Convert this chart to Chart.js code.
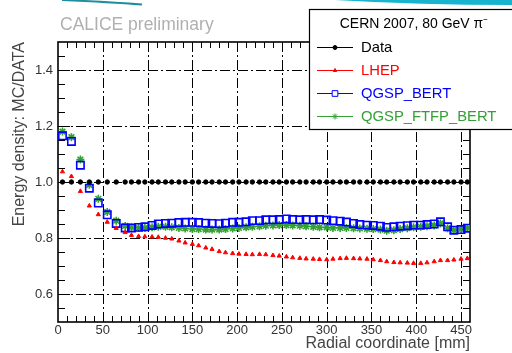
<!DOCTYPE html>
<html>
<head>
<meta charset="utf-8">
<script src="https://cdn.jsdelivr.net/npm/chart.js@4.4.1/dist/chart.umd.min.js"></script>
<style>
html, body { margin: 0; padding: 0; background: #fff; }
canvas { display: block; }
</style>
</head>
<body>
<canvas id="profileChart" width="512" height="353"></canvas>
<script>
// radial bin centres [mm]
const radius = [
    5, 15, 25, 35, 45, 55, 65, 75,
    82, 90, 97, 105, 112, 120, 127, 135, 142, 150,
    157, 165, 172, 180, 187, 195, 202, 210, 217, 225,
    232, 240, 247, 255, 262, 270, 277, 285, 292, 300,
    307, 315, 322, 330, 337, 345, 352, 360, 367, 375,
    382, 390, 397, 405, 412, 420, 427, 435, 442, 450,
    457
];

const dataRatio = [
    1.0, 1.0, 1.0, 1.0, 1.0, 1.0, 1.0, 1.0,
    1.0, 1.0, 1.0, 1.0, 1.0, 1.0, 1.0, 1.0, 1.0, 1.0,
    1.0, 1.0, 1.0, 1.0, 1.0, 1.0, 1.0, 1.0, 1.0, 1.0,
    1.0, 1.0, 1.0, 1.0, 1.0, 1.0, 1.0, 1.0, 1.0, 1.0,
    1.0, 1.0, 1.0, 1.0, 1.0, 1.0, 1.0, 1.0, 1.0, 1.0,
    1.0, 1.0, 1.0, 1.0, 1.0, 1.0, 1.0, 1.0, 1.0, 1.0,
    1.0
];

const lhep = [
    1.037, 1.02, 0.967, 0.915, 0.884, 0.857, 0.835, 0.82,
    0.81, 0.806, 0.805, 0.804, 0.803, 0.8, 0.797, 0.79, 0.783, 0.778,
    0.773, 0.765, 0.76, 0.752, 0.748, 0.745, 0.743, 0.742, 0.741, 0.742,
    0.741, 0.738, 0.736, 0.733, 0.73, 0.728, 0.726, 0.725, 0.724, 0.723,
    0.725, 0.727, 0.728, 0.727, 0.726, 0.725, 0.723, 0.72, 0.716, 0.713,
    0.712, 0.711, 0.71, 0.71, 0.712, 0.716, 0.72, 0.72, 0.722, 0.725,
    0.727
];

const qgspBert = [
    1.165, 1.145, 1.06, 0.978, 0.925, 0.883, 0.852, 0.836,
    0.836, 0.838, 0.84, 0.845, 0.85, 0.852, 0.853, 0.855, 0.856, 0.856,
    0.855, 0.853, 0.852, 0.851, 0.853, 0.856, 0.856, 0.858, 0.862, 0.862,
    0.865, 0.865, 0.866, 0.868, 0.866, 0.865, 0.866, 0.865, 0.866, 0.864,
    0.862, 0.86, 0.857, 0.852, 0.848, 0.846, 0.845, 0.842, 0.838, 0.84,
    0.842, 0.844, 0.846, 0.846, 0.848, 0.85, 0.858, 0.84, 0.828, 0.83,
    0.835
];

const qgspFtfpBert = [
    1.18, 1.16, 1.08, 0.99, 0.94, 0.893, 0.862, 0.843,
    0.838, 0.836, 0.836, 0.838, 0.84, 0.84, 0.838, 0.836, 0.834, 0.832,
    0.832, 0.83, 0.83, 0.83, 0.832, 0.834, 0.836, 0.838, 0.84, 0.842,
    0.844, 0.845, 0.846, 0.846, 0.845, 0.844, 0.842, 0.84, 0.838, 0.838,
    0.836, 0.836, 0.836, 0.835, 0.834, 0.833, 0.832, 0.83, 0.826, 0.828,
    0.832, 0.835, 0.838, 0.84, 0.842, 0.845, 0.852, 0.835, 0.828, 0.832,
    0.835
];

const seriesNames = ['Data', 'LHEP', 'QGSP_BERT', 'QGSP_FTFP_BERT'];
const xTicks = [0, 50, 100, 150, 200, 250, 300, 350, 400, 450];
const yTicks = [0.6, 0.8, 1.0, 1.2, 1.4];
const legendTitle = 'CERN 2007, 80 GeV \u03c0\u207b';
const stampText = 'CALICE preliminary';

const colors = {
    data: '#000000',
    lhep: '#ff0000',
    bert: '#0000ff',
    ftfp: '#33a033'
};

const FONT = '"Liberation Sans", Arial, Helvetica, sans-serif';
Chart.defaults.font.family = FONT;

function toPoints(ys) {
    return radius.map((r, i) => ({ x: r, y: ys[i] }));
}

const dashDot = [10, 3, 2, 3];

// ROOT-style frame, dash-dot grid, inward minor ticks, legend box and slide decoration
const rootStyle = {
    id: 'rootStyle',
    beforeDatasetsDraw(chart) {
        const { ctx, chartArea: a, scales } = chart;
        ctx.save();
        ctx.strokeStyle = '#000';

        // grid
        ctx.lineWidth = 1;
        ctx.setLineDash(dashDot);
        ctx.beginPath();
        xTicks.forEach(v => {
            if (v === 0) return;
            const px = Math.round(scales.x.getPixelForValue(v)) + 0.5;
            ctx.moveTo(px, a.bottom); ctx.lineTo(px, a.top);
        });
        yTicks.forEach(v => {
            const py = Math.round(scales.y.getPixelForValue(v)) + 0.5;
            ctx.moveTo(a.left, py); ctx.lineTo(a.right, py);
        });
        ctx.stroke();
        ctx.setLineDash([]);

        // ticks
        ctx.beginPath();
        for (let v = 10; v <= 450; v += 10) {
            const px = Math.round(scales.x.getPixelForValue(v)) + 0.5;
            const len = v % 50 === 0 ? 9 : 6;
            ctx.moveTo(px, a.bottom); ctx.lineTo(px, a.bottom - len);
            ctx.moveTo(px, a.top); ctx.lineTo(px, a.top + len);
        }
        for (let k = 11; k < 30; k++) {
            const v = k * 0.05;
            const py = Math.round(scales.y.getPixelForValue(v)) + 0.5;
            const len = k % 4 === 0 ? 12 : 7;
            ctx.moveTo(a.left, py); ctx.lineTo(a.left + len, py);
            ctx.moveTo(a.right, py); ctx.lineTo(a.right - len, py);
        }
        ctx.stroke();
        ctx.lineWidth = 1.6;
        ctx.strokeRect(a.left, a.top, a.right - a.left, a.bottom - a.top);
        ctx.restore();
    },
    afterDraw(chart) {
        const { ctx } = chart;
        ctx.save();

        // slide decoration at the top
        ctx.strokeStyle = '#1f8f9f';
        ctx.lineWidth = 2;
        ctx.beginPath();
        ctx.moveTo(62, 0);
        ctx.quadraticCurveTo(110, 2, 142, 4.5);
        ctx.stroke();
        ctx.fillStyle = '#18b4cf';
        ctx.beginPath();
        ctx.moveTo(335, 0);
        ctx.quadraticCurveTo(420, 5, 512, 5);
        ctx.lineTo(512, 0);
        ctx.closePath();
        ctx.fill();

        // stamp
        ctx.fillStyle = '#b0b0b0';
        ctx.font = '17.5px ' + FONT;
        ctx.textBaseline = 'middle';
        ctx.textAlign = 'left';
        ctx.fillText(stampText, 60, 25);

        // legend box
        const bx = 309, by = 9, bw = 210, bh = 120;
        ctx.fillStyle = '#fff';
        ctx.fillRect(bx, by, bw, bh);
        ctx.strokeStyle = '#000';
        ctx.lineWidth = 1.2;
        ctx.strokeRect(bx + 0.5, by + 0.5, bw, bh);

        ctx.fillStyle = '#000';
        ctx.font = '14px ' + FONT;
        ctx.textAlign = 'center';
        ctx.fillText(legendTitle, 414, 24);

        const rows = [47, 70, 93, 116];
        chart.data.datasets.forEach((ds, i) => {
            const y = rows[i];
            ctx.strokeStyle = ds.borderColor;
            ctx.lineWidth = 1;
            ctx.beginPath();
            ctx.moveTo(317, y + 0.5);
            ctx.lineTo(353, y + 0.5);
            ctx.stroke();
            ctx.fillStyle = ds.pointStyle === 'rect' ? '#fff' : ds.borderColor;
            Chart.helpers.drawPoint(ctx, {
                pointStyle: ds.pointStyle,
                radius: ds.legendRadius,
                rotation: 0,
                borderWidth: 1
            }, 335, y + 0.5);
            ctx.textAlign = 'left';
            ctx.fillStyle = ds.borderColor;
            ctx.font = '14.8px ' + FONT;
            ctx.fillText(ds.label, 361, y + 1);
        });
        ctx.restore();
    }
};

const ctx = document.getElementById('profileChart').getContext('2d');
new Chart(ctx, {
    type: 'scatter',
    data: {
        datasets: [
            {
                label: seriesNames[0],
                data: toPoints(dataRatio),
                pointStyle: 'circle',
                pointRadius: 2.2,
                borderColor: colors.data,
                backgroundColor: colors.data,
                borderWidth: 1,
                legendRadius: 2
            },
            {
                label: seriesNames[1],
                data: toPoints(lhep),
                pointStyle: 'triangle',
                pointRadius: 2.4,
                borderColor: colors.lhep,
                backgroundColor: colors.lhep,
                borderWidth: 1,
                legendRadius: 2
            },
            {
                label: seriesNames[2],
                data: toPoints(qgspBert),
                pointStyle: 'rect',
                pointRadius: 5.2,
                borderColor: colors.bert,
                backgroundColor: 'rgba(0,0,0,0)',
                borderWidth: 1.6,
                legendRadius: 4
            },
            {
                label: seriesNames[3],
                data: toPoints(qgspFtfpBert),
                pointStyle: 'star',
                pointRadius: 4,
                borderColor: colors.ftfp,
                backgroundColor: colors.ftfp,
                borderWidth: 1.6,
                legendRadius: 3
            }
        ]
    },
    options: {
        responsive: false,
        animation: false,
        events: [],
        layout: { padding: { left: 6, top: 42, right: 42, bottom: 0 } },
        plugins: {
            legend: { display: false },
            tooltip: { enabled: false }
        },
        scales: {
            x: {
                type: 'linear',
                min: 0,
                max: 460,
                afterBuildTicks: s => { s.ticks = xTicks.map(v => ({ value: v })); },
                afterFit: s => { s.height = 31; },
                ticks: {
                    font: { size: 13 },
                    color: '#333',
                    padding: 1,
                    maxRotation: 0,
                    autoSkip: false
                },
                grid: { display: false, drawTicks: false },
                border: { display: false },
                title: {
                    display: true,
                    text: 'Radial coordinate [mm]',
                    align: 'end',
                    color: '#444',
                    font: { size: 16 },
                    padding: { top: 0, bottom: 0 }
                }
            },
            y: {
                min: 0.5,
                max: 1.5,
                afterBuildTicks: s => { s.ticks = yTicks.map(v => ({ value: v })); },
                afterFit: s => { s.width = 52; },
                ticks: {
                    font: { size: 13 },
                    color: '#333',
                    padding: 5,
                    callback: v => v.toFixed(1)
                },
                grid: { display: false, drawTicks: false },
                border: { display: false },
                title: {
                    display: true,
                    text: 'Energy density: MC/DATA',
                    align: 'end',
                    color: '#444',
                    font: { size: 16 },
                    padding: { top: 4, bottom: 0 }
                }
            }
        }
    },
    plugins: [rootStyle]
});
</script>
</body>
</html>
